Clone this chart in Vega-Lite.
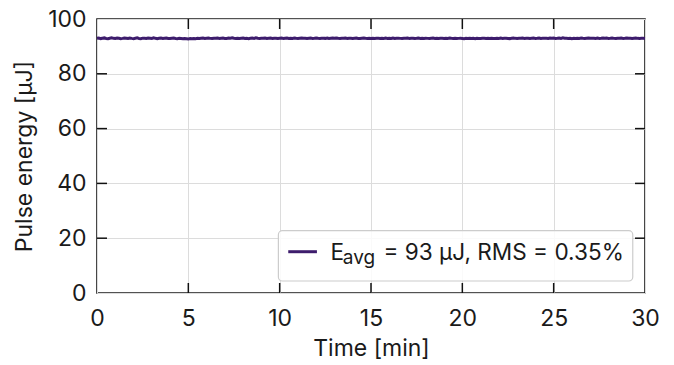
{
  "$schema": "https://vega.github.io/schema/vega-lite/v6.json",
  "width": 548,
  "height": 274,
  "autosize": {"type": "none"},
  "padding": {"left": 97, "top": 19, "right": 29, "bottom": 72},
  "background": "white",
  "config": {
    "font": "Inter",
    "view": {"stroke": "#1a1a1a", "strokeWidth": 1.6},
    "axis": {
      "domain": false,
      "ticks": false,
      "labelFlush": false,
      "labelOverlap": false,
      "gridColor": "#dcdcdc",
      "gridWidth": 1,
      "labelFont": "Inter",
      "labelFontSize": 23,
      "labelColor": "#1a1a1a",
      "titleFont": "Inter",
      "titleFontSize": 23,
      "titleFontWeight": "normal",
      "titleColor": "#1a1a1a"
    }
  },
  "datasets": {
    "series": [
      {"t":0.0,"e":92.95},{"t":0.1,"e":93.05},{"t":0.2,"e":92.85},{"t":0.3,"e":92.98},{"t":0.4,"e":93.10},{"t":0.5,"e":92.90},{"t":0.6,"e":92.82},{"t":0.7,"e":93.00},{"t":0.8,"e":93.12},{"t":0.9,"e":92.94},
      {"t":1.0,"e":92.88},{"t":1.1,"e":93.02},{"t":1.2,"e":92.96},{"t":1.3,"e":92.80},{"t":1.4,"e":92.92},{"t":1.5,"e":93.08},{"t":1.6,"e":92.99},{"t":1.7,"e":92.86},{"t":1.8,"e":93.04},{"t":1.9,"e":92.93},
      {"t":2.0,"e":92.84},{"t":2.1,"e":92.97},{"t":2.2,"e":93.11},{"t":2.3,"e":92.91},{"t":2.4,"e":92.83},{"t":2.5,"e":93.01},{"t":2.6,"e":92.95},{"t":2.7,"e":92.87},{"t":2.8,"e":93.06},{"t":2.9,"e":92.98},
      {"t":3.0,"e":92.90},{"t":3.1,"e":93.14},{"t":3.2,"e":92.94},{"t":3.3,"e":92.81},{"t":3.4,"e":92.96},{"t":3.5,"e":93.03},{"t":3.6,"e":92.89},{"t":3.7,"e":92.99},{"t":3.8,"e":93.09},{"t":3.9,"e":92.92},
      {"t":4.0,"e":92.85},{"t":4.1,"e":92.97},{"t":4.2,"e":93.02},{"t":4.3,"e":92.88},{"t":4.4,"e":92.79},{"t":4.5,"e":92.93},{"t":4.6,"e":92.86},{"t":4.7,"e":92.76},{"t":4.8,"e":92.90},{"t":4.9,"e":92.82},
      {"t":5.0,"e":92.74},{"t":5.1,"e":92.88},{"t":5.2,"e":92.80},{"t":5.3,"e":92.92},{"t":5.4,"e":92.84},{"t":5.5,"e":92.95},{"t":5.6,"e":92.86},{"t":5.7,"e":92.98},{"t":5.8,"e":93.04},{"t":5.9,"e":92.91},
      {"t":6.0,"e":92.99},{"t":6.1,"e":93.07},{"t":6.2,"e":92.93},{"t":6.3,"e":92.87},{"t":6.4,"e":93.00},{"t":6.5,"e":92.94},{"t":6.6,"e":93.05},{"t":6.7,"e":92.89},{"t":6.8,"e":92.97},{"t":6.9,"e":93.02},
      {"t":7.0,"e":92.92},{"t":7.1,"e":92.86},{"t":7.2,"e":93.03},{"t":7.3,"e":92.96},{"t":7.4,"e":93.10},{"t":7.5,"e":92.95},{"t":7.6,"e":92.88},{"t":7.7,"e":93.01},{"t":7.8,"e":92.93},{"t":7.9,"e":92.99},
      {"t":8.0,"e":93.06},{"t":8.1,"e":92.90},{"t":8.2,"e":92.97},{"t":8.3,"e":92.84},{"t":8.4,"e":92.99},{"t":8.5,"e":93.04},{"t":8.6,"e":92.92},{"t":8.7,"e":93.13},{"t":8.8,"e":92.96},{"t":8.9,"e":92.89},
      {"t":9.0,"e":93.00},{"t":9.1,"e":92.94},{"t":9.2,"e":93.07},{"t":9.3,"e":92.91},{"t":9.4,"e":92.98},{"t":9.5,"e":93.03},{"t":9.6,"e":92.87},{"t":9.7,"e":92.95},{"t":9.8,"e":93.01},{"t":9.9,"e":92.90},
      {"t":10.0,"e":92.96},{"t":10.1,"e":93.02},{"t":10.2,"e":92.88},{"t":10.3,"e":92.97},{"t":10.4,"e":93.05},{"t":10.5,"e":92.93},{"t":10.6,"e":92.99},{"t":10.7,"e":92.91},{"t":10.8,"e":93.04},{"t":10.9,"e":92.95},
      {"t":11.0,"e":92.89},{"t":11.1,"e":92.98},{"t":11.2,"e":93.06},{"t":11.3,"e":92.94},{"t":11.4,"e":93.00},{"t":11.5,"e":92.87},{"t":11.6,"e":92.96},{"t":11.7,"e":93.03},{"t":11.8,"e":92.92},{"t":11.9,"e":92.99},
      {"t":12.0,"e":93.08},{"t":12.1,"e":92.95},{"t":12.2,"e":92.90},{"t":12.3,"e":93.01},{"t":12.4,"e":92.97},{"t":12.5,"e":92.93},{"t":12.6,"e":93.05},{"t":12.7,"e":92.89},{"t":12.8,"e":92.98},{"t":12.9,"e":93.02},
      {"t":13.0,"e":92.94},{"t":13.1,"e":93.07},{"t":13.2,"e":92.96},{"t":13.3,"e":92.91},{"t":13.4,"e":93.00},{"t":13.5,"e":92.95},{"t":13.6,"e":93.04},{"t":13.7,"e":92.88},{"t":13.8,"e":92.97},{"t":13.9,"e":93.01},
      {"t":14.0,"e":92.93},{"t":14.1,"e":92.99},{"t":14.2,"e":93.06},{"t":14.3,"e":92.92},{"t":14.4,"e":92.86},{"t":14.5,"e":92.98},{"t":14.6,"e":93.03},{"t":14.7,"e":92.95},{"t":14.8,"e":92.90},{"t":14.9,"e":92.97},
      {"t":15.0,"e":92.91},{"t":15.1,"e":92.96},{"t":15.2,"e":92.88},{"t":15.3,"e":93.00},{"t":15.4,"e":92.94},{"t":15.5,"e":92.87},{"t":15.6,"e":92.99},{"t":15.7,"e":92.93},{"t":15.8,"e":93.02},{"t":15.9,"e":92.90},
      {"t":16.0,"e":92.97},{"t":16.1,"e":92.92},{"t":16.2,"e":93.04},{"t":16.3,"e":92.89},{"t":16.4,"e":92.95},{"t":16.5,"e":93.01},{"t":16.6,"e":92.93},{"t":16.7,"e":92.86},{"t":16.8,"e":92.98},{"t":16.9,"e":92.94},
      {"t":17.0,"e":93.03},{"t":17.1,"e":92.91},{"t":17.2,"e":92.96},{"t":17.3,"e":93.00},{"t":17.4,"e":92.88},{"t":17.5,"e":92.95},{"t":17.6,"e":93.05},{"t":17.7,"e":92.92},{"t":17.8,"e":92.97},{"t":17.9,"e":92.90},
      {"t":18.0,"e":92.99},{"t":18.1,"e":92.93},{"t":18.2,"e":92.87},{"t":18.3,"e":92.98},{"t":18.4,"e":93.02},{"t":18.5,"e":92.91},{"t":18.6,"e":92.96},{"t":18.7,"e":92.85},{"t":18.8,"e":92.94},{"t":18.9,"e":93.00},
      {"t":19.0,"e":92.92},{"t":19.1,"e":92.97},{"t":19.2,"e":92.89},{"t":19.3,"e":93.03},{"t":19.4,"e":92.95},{"t":19.5,"e":92.90},{"t":19.6,"e":92.98},{"t":19.7,"e":92.86},{"t":19.8,"e":92.93},{"t":19.9,"e":92.99},
      {"t":20.0,"e":92.91},{"t":20.1,"e":92.84},{"t":20.2,"e":92.96},{"t":20.3,"e":92.92},{"t":20.4,"e":93.01},{"t":20.5,"e":92.88},{"t":20.6,"e":92.94},{"t":20.7,"e":92.83},{"t":20.8,"e":92.97},{"t":20.9,"e":92.90},
      {"t":21.0,"e":92.86},{"t":21.1,"e":92.95},{"t":21.2,"e":93.00},{"t":21.3,"e":92.89},{"t":21.4,"e":92.93},{"t":21.5,"e":92.85},{"t":21.6,"e":92.98},{"t":21.7,"e":92.91},{"t":21.8,"e":92.87},{"t":21.9,"e":92.96},
      {"t":22.0,"e":92.92},{"t":22.1,"e":93.02},{"t":22.2,"e":92.88},{"t":22.3,"e":92.94},{"t":22.4,"e":92.99},{"t":22.5,"e":92.90},{"t":22.6,"e":92.84},{"t":22.7,"e":92.97},{"t":22.8,"e":93.03},{"t":22.9,"e":92.93},
      {"t":23.0,"e":92.89},{"t":23.1,"e":92.98},{"t":23.2,"e":92.94},{"t":23.3,"e":93.06},{"t":23.4,"e":92.91},{"t":23.5,"e":92.96},{"t":23.6,"e":93.00},{"t":23.7,"e":92.87},{"t":23.8,"e":92.95},{"t":23.9,"e":93.04},
      {"t":24.0,"e":92.93},{"t":24.1,"e":92.99},{"t":24.2,"e":93.08},{"t":24.3,"e":92.92},{"t":24.4,"e":92.97},{"t":24.5,"e":93.01},{"t":24.6,"e":92.94},{"t":24.7,"e":92.88},{"t":24.8,"e":93.05},{"t":24.9,"e":92.96},
      {"t":25.0,"e":93.02},{"t":25.1,"e":92.91},{"t":25.2,"e":92.98},{"t":25.3,"e":93.07},{"t":25.4,"e":92.93},{"t":25.5,"e":93.12},{"t":25.6,"e":92.95},{"t":25.7,"e":93.00},{"t":25.8,"e":92.89},{"t":25.9,"e":92.97},
      {"t":26.0,"e":92.83},{"t":26.1,"e":92.94},{"t":26.2,"e":92.88},{"t":26.3,"e":92.99},{"t":26.4,"e":92.92},{"t":26.5,"e":93.03},{"t":26.6,"e":92.95},{"t":26.7,"e":92.90},{"t":26.8,"e":92.98},{"t":26.9,"e":93.06},
      {"t":27.0,"e":92.94},{"t":27.1,"e":93.01},{"t":27.2,"e":92.96},{"t":27.3,"e":92.89},{"t":27.4,"e":93.04},{"t":27.5,"e":92.93},{"t":27.6,"e":92.99},{"t":27.7,"e":93.09},{"t":27.8,"e":92.95},{"t":27.9,"e":93.02},
      {"t":28.0,"e":92.91},{"t":28.1,"e":92.97},{"t":28.2,"e":93.05},{"t":28.3,"e":92.93},{"t":28.4,"e":92.88},{"t":28.5,"e":93.00},{"t":28.6,"e":92.95},{"t":28.7,"e":93.03},{"t":28.8,"e":92.92},{"t":28.9,"e":92.98},
      {"t":29.0,"e":93.06},{"t":29.1,"e":92.94},{"t":29.2,"e":92.99},{"t":29.3,"e":92.87},{"t":29.4,"e":92.96},{"t":29.5,"e":93.02},{"t":29.6,"e":92.93},{"t":29.7,"e":92.90},{"t":29.8,"e":92.97},{"t":29.9,"e":92.95},
      {"t":30.0,"e":92.92}
    ],
    "tickmarks": [
      {"xa":5,"xb":5,"ya":0,"yb":3.65},{"xa":10,"xb":10,"ya":0,"yb":3.65},{"xa":15,"xb":15,"ya":0,"yb":3.65},{"xa":20,"xb":20,"ya":0,"yb":3.65},{"xa":25,"xb":25,"ya":0,"yb":3.65},
      {"xa":5,"xb":5,"ya":96.35,"yb":100},{"xa":10,"xb":10,"ya":96.35,"yb":100},{"xa":15,"xb":15,"ya":96.35,"yb":100},{"xa":20,"xb":20,"ya":96.35,"yb":100},{"xa":25,"xb":25,"ya":96.35,"yb":100},
      {"xa":0,"xb":0.547,"ya":20,"yb":20},{"xa":0,"xb":0.547,"ya":40,"yb":40},{"xa":0,"xb":0.547,"ya":60,"yb":60},{"xa":0,"xb":0.547,"ya":80,"yb":80},
      {"xa":29.453,"xb":30,"ya":20,"yb":20},{"xa":29.453,"xb":30,"ya":40,"yb":40},{"xa":29.453,"xb":30,"ya":60,"yb":60},{"xa":29.453,"xb":30,"ya":80,"yb":80}
    ],
    "legendBox": [{"x1": 9.93, "x2": 29.33, "y1": 4.38, "y2": 22.74}],
    "legendLine": [{"x1": 10.47, "x2": 12.04, "y": 15.07}],
    "legendText": [
      {"x": 12.78, "y": 12.04, "label": "E", "part": "main"},
      {"x": 13.46, "y": 10.6, "label": "avg", "part": "sub"},
      {"x": 15.68, "y": 12.04, "label": "= 93 μJ, RMS = 0.35%", "part": "main"}
    ]
  },
  "layer": [
    {
      "data": {"name": "series"},
      "mark": {"type": "line", "color": "#3d1c6c", "strokeWidth": 3},
      "encoding": {
        "x": {"field": "t", "type": "quantitative",
              "scale": {"domain": [0, 30], "nice": false, "zero": false},
              "axis": {"orient": "bottom", "values": [0,5,10,15,20,25,30], "grid": true, "labelPadding": 14, "title": "Time [min]", "titlePadding": 7}},
        "y": {"field": "e", "type": "quantitative",
              "scale": {"domain": [0, 100], "nice": false, "zero": false},
              "axis": {"orient": "left", "values": [0,20,40,60,80,100], "grid": true, "labelPadding": 11, "title": "Pulse energy [μJ]", "titlePadding": 11}}
      }
    },
    {
      "data": {"name": "tickmarks"},
      "mark": {"type": "rule", "color": "#111111", "strokeWidth": 1.5},
      "encoding": {
        "x": {"field": "xa", "type": "quantitative"},
        "x2": {"field": "xb"},
        "y": {"field": "ya", "type": "quantitative"},
        "y2": {"field": "yb"}
      }
    },
    {
      "data": {"name": "legendBox"},
      "mark": {"type": "rect", "fill": "white", "fillOpacity": 0.85, "stroke": "#cccccc", "strokeWidth": 1.2, "cornerRadius": 4},
      "encoding": {
        "x": {"field": "x1", "type": "quantitative"},
        "x2": {"field": "x2"},
        "y": {"field": "y1", "type": "quantitative"},
        "y2": {"field": "y2"}
      }
    },
    {
      "data": {"name": "legendLine"},
      "mark": {"type": "rule", "color": "#3d1c6c", "strokeWidth": 3},
      "encoding": {
        "x": {"field": "x1", "type": "quantitative"},
        "x2": {"field": "x2"},
        "y": {"field": "y", "type": "quantitative"}
      }
    },
    {
      "data": {"name": "legendText"},
      "transform": [{"filter": "datum.part === 'main'"}],
      "mark": {"type": "text", "align": "left", "baseline": "alphabetic", "fontSize": 22.6, "font": "Inter", "color": "#1a1a1a"},
      "encoding": {
        "x": {"field": "x", "type": "quantitative"},
        "y": {"field": "y", "type": "quantitative"},
        "text": {"field": "label"}
      }
    },
    {
      "data": {"name": "legendText"},
      "transform": [{"filter": "datum.part === 'sub'"}],
      "mark": {"type": "text", "align": "left", "baseline": "alphabetic", "fontSize": 19, "font": "Inter", "color": "#1a1a1a"},
      "encoding": {
        "x": {"field": "x", "type": "quantitative"},
        "y": {"field": "y", "type": "quantitative"},
        "text": {"field": "label"}
      }
    }
  ]
}
